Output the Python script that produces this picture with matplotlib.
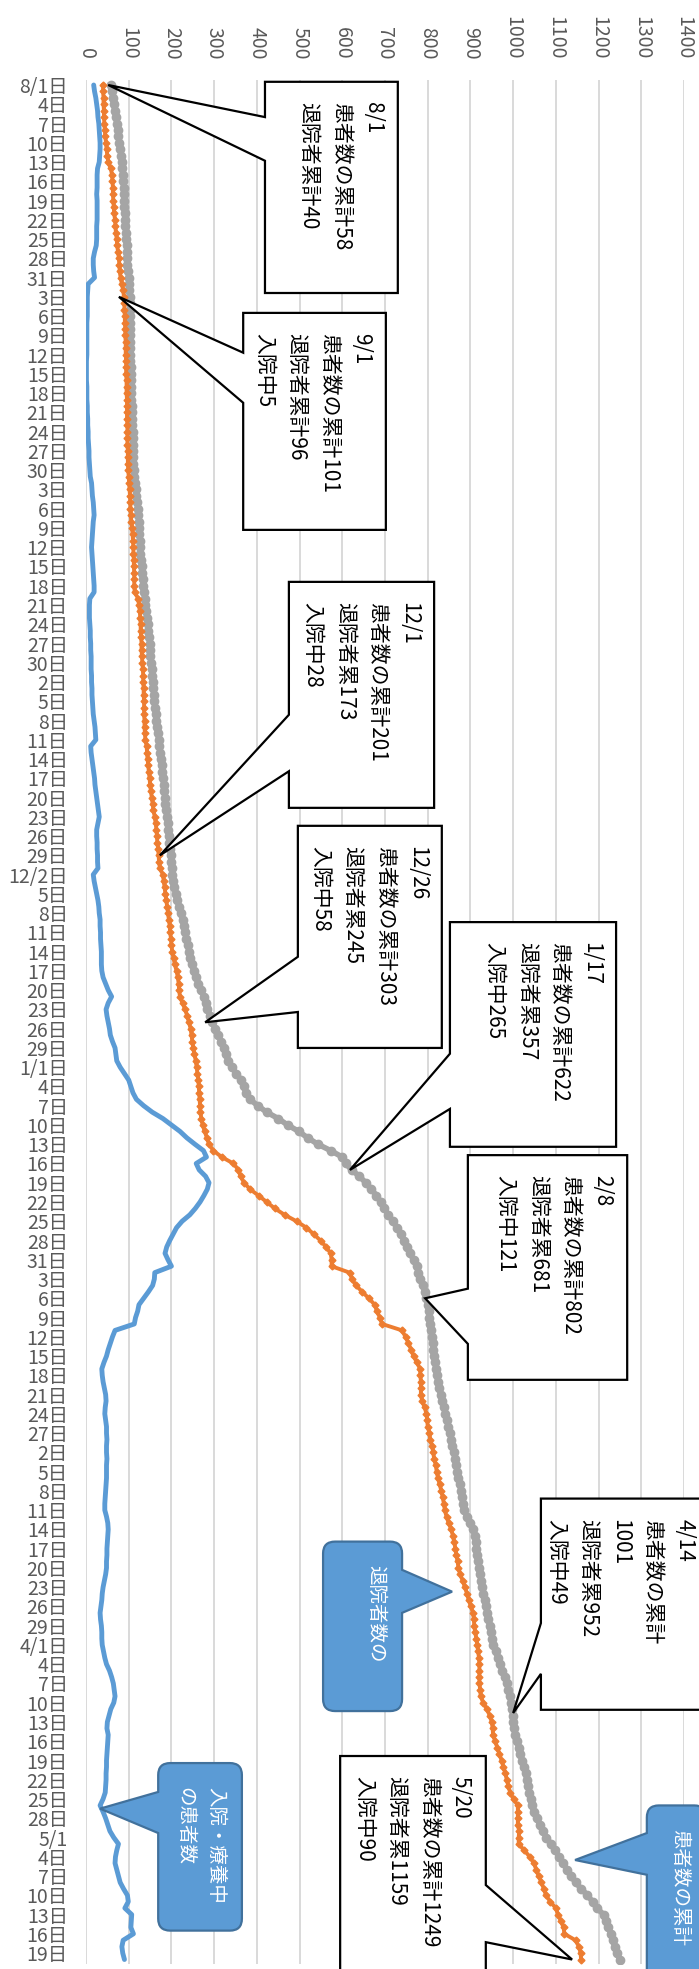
import matplotlib
matplotlib.use('Agg')
import matplotlib.pyplot as plt
from matplotlib.path import Path
from matplotlib.patches import PathPatch
import numpy as np
import pandas as pd

plt.rcParams['font.family'] = ['Noto Sans CJK JP', 'DejaVu Sans']

start_date = '2020-08-01'
end_date = '2021-05-20'

# 患者数の累計 (月ごと, 日別)
cases_aug = [58, 60, 63, 65, 67, 70, 72, 74, 76, 78, 80, 82, 84, 85, 86, 87, 88, 88, 89, 90,
             91, 92, 92, 93, 94, 95, 95, 96, 97, 98, 100]
cases_sep = [101, 101, 102, 102, 103, 103, 103, 103, 104, 104, 104, 104, 104, 105, 105, 105,
             106, 106, 106, 107, 107, 108, 108, 109, 109, 110, 110, 111, 111, 112]
cases_oct = [113, 115, 117, 118, 119, 121, 122, 123, 124, 125, 126, 126, 127, 129, 130, 131,
             133, 134, 136, 137, 139, 141, 142, 144, 146, 147, 149, 150, 151, 153, 154]
cases_nov = [155, 156, 157, 159, 160, 161, 163, 164, 166, 168, 170, 172, 173, 175, 177, 179,
             180, 182, 183, 185, 186, 188, 189, 191, 192, 194, 195, 197, 198, 200]
cases_dec = [201, 202, 204, 207, 210, 214, 218, 222, 226, 229, 232, 235, 238, 241, 244, 248,
             252, 258, 263, 269, 276, 280, 284, 290, 296, 303, 310, 316, 323, 327, 333]
cases_jan = [341, 352, 363, 369, 375, 384, 402, 423, 450, 472, 498, 519, 543, 573, 600, 608,
             622, 640, 655, 668, 680, 690, 698, 708, 718, 728, 737, 745, 751, 758, 767]
cases_feb = [775, 778, 783, 788, 793, 797, 800, 802, 804, 806, 808, 810, 812, 813, 815, 817,
             819, 821, 824, 827, 830, 834, 838, 841, 845, 848, 852, 855]
cases_mar = [858, 861, 864, 867, 869, 872, 875, 878, 880, 882, 884, 892, 900, 907, 910, 912,
             914, 916, 918, 920, 922, 925, 927, 930, 933, 936, 939, 942, 945, 948, 951]
cases_apr = [954, 959, 964, 969, 975, 980, 985, 989, 992, 995, 997, 999, 1000, 1001, 1005, 1009,
             1013, 1017, 1021, 1025, 1029, 1032, 1035, 1038, 1041, 1044, 1048, 1055, 1062, 1070]
cases_may = [1078, 1088, 1098, 1108, 1117, 1126, 1136, 1146, 1160, 1174, 1186, 1196, 1212, 1218,
             1223, 1229, 1233, 1238, 1244, 1249]

# 退院者数の累計
disch_aug = [40, 40, 41, 41, 42, 42, 43, 44, 45, 47, 48, 50, 52, 58, 61, 62, 63, 63, 64, 65,
             66, 68, 69, 70, 72, 73, 75, 77, 78, 79, 81]
disch_sep = [84, 87, 89, 90, 90, 91, 91, 92, 92, 93, 93, 93, 94, 94, 94, 95, 95, 95, 96, 96,
             96, 96, 97, 97, 97, 97, 98, 98, 98, 99]
disch_oct = [100, 101, 102, 103, 104, 104, 105, 106, 108, 109, 110, 111, 111, 112, 112, 113,
             113, 113, 114, 122, 124, 126, 127, 128, 128, 129, 130, 130, 131, 132, 133]
disch_nov = [134, 134, 135, 135, 136, 136, 136, 137, 137, 138, 139, 142, 143, 144, 146, 147,
             149, 150, 152, 154, 156, 158, 161, 163, 165, 166, 167, 169, 170, 171]
disch_dec = [173, 180, 182, 184, 186, 188, 190, 192, 194, 196, 197, 199, 200, 202, 205, 208,
             212, 215, 217, 218, 220, 226, 232, 237, 241, 245, 247, 249, 251, 254, 257]
disch_jan = [259, 261, 263, 264, 265, 266, 267, 268, 270, 273, 278, 283, 288, 298, 318, 345,
             357, 362, 370, 384, 404, 423, 442, 465, 493, 516, 533, 549, 562, 573, 575]
disch_feb = [575, 617, 623, 632, 647, 662, 676, 681, 688, 693, 740, 748, 755, 761, 767, 775,
             782, 783, 784, 784, 784, 787, 793, 797, 799, 800, 804, 806]
disch_mar = [810, 813, 815, 819, 821, 824, 828, 832, 835, 838, 840, 844, 849, 855, 859, 862,
             865, 867, 870, 872, 876, 882, 887, 892, 896, 901, 906, 908, 909, 911, 914]
disch_apr = [916, 918, 920, 921, 921, 921, 921, 923, 924, 930, 939, 945, 950, 952, 953, 958,
             963, 968, 973, 977, 982, 985, 989, 993, 1001, 1011, 1011, 1011, 1011, 1014]
disch_may = [1013, 1013, 1026, 1039, 1049, 1054, 1060, 1066, 1072, 1077, 1087, 1100, 1105, 1112,
             1118, 1120, 1146, 1154, 1158, 1159]

# 入院・療養中の患者数
hosp_aug = [18, 20, 23, 25, 27, 28, 30, 31, 32, 33, 33, 32, 31, 27, 26, 26, 26, 25, 26, 26,
            26, 26, 25, 25, 25, 24, 20, 17, 17, 18, 20]
hosp_sep = [5, 4, 3, 3, 3, 3, 2, 2, 2, 2, 2, 2, 1, 1, 1, 1, 2, 2, 2, 3,
            3, 4, 4, 5, 5, 6, 7, 7, 8, 9]
hosp_oct = [10, 13, 14, 15, 17, 18, 19, 17, 16, 15, 14, 13, 14, 15, 16, 17, 18, 19, 19, 9,
            8, 8, 8, 9, 10, 10, 11, 11, 12, 12, 12]
hosp_nov = [13, 13, 14, 14, 15, 16, 17, 19, 21, 22, 23, 11, 12, 14, 16, 18, 20, 21, 23, 25,
            27, 29, 31, 28, 25, 25, 26, 26, 27, 27]
hosp_dec = [28, 17, 19, 22, 25, 28, 30, 31, 33, 33, 34, 34, 35, 36, 36, 36, 37, 40, 46, 52,
            60, 52, 47, 49, 52, 55, 57, 62, 68, 70, 72]
hosp_jan = [80, 90, 100, 105, 110, 118, 135, 155, 180, 200, 220, 236, 255, 275, 282, 258,
            265, 280, 288, 284, 276, 267, 256, 243, 225, 212, 204, 196, 189, 185, 192]
hosp_feb = [200, 161, 160, 156, 146, 135, 124, 121, 116, 113, 68, 62, 57, 52, 48, 42,
            37, 38, 40, 43, 46, 47, 45, 44, 46, 48, 48, 49]
hosp_mar = [48, 48, 49, 48, 48, 48, 47, 46, 45, 44, 44, 48, 51, 52, 51, 50,
            49, 49, 48, 48, 46, 43, 40, 38, 37, 35, 33, 34, 36, 37, 37]
hosp_apr = [38, 41, 44, 48, 55, 60, 64, 66, 68, 65, 58, 54, 50, 49, 52, 51,
            50, 49, 48, 48, 47, 47, 46, 45, 40, 33, 40, 46, 51, 56]
hosp_may = [65, 76, 72, 69, 68, 72, 76, 80, 88, 97, 99, 91, 107, 106, 105, 111,
            87, 84, 86, 90]

cases = np.array(cases_aug + cases_sep + cases_oct + cases_nov + cases_dec + cases_jan
                 + cases_feb + cases_mar + cases_apr + cases_may)
discharged = np.array(disch_aug + disch_sep + disch_oct + disch_nov + disch_dec + disch_jan
                      + disch_feb + disch_mar + disch_apr + disch_may)
in_hosp = np.array(hosp_aug + hosp_sep + hosp_oct + hosp_nov + hosp_dec + hosp_jan
                   + hosp_feb + hosp_mar + hosp_apr + hosp_may)

dates = pd.date_range(start_date, end_date, freq='D')
days = np.arange(len(dates))

# 月を付けて表示する目盛り
month_labels = {'2020-08-01': '8/1日', '2020-12-02': '12/2日', '2021-01-01': '1/1日',
                '2021-04-01': '4/1日', '2021-05-01': '5/1'}
tick_days = list(range(0, len(dates), 3))
tick_labels = [month_labels.get(dates[i].strftime('%Y-%m-%d'), f'{dates[i].day}日')
               for i in tick_days]

fig = plt.figure(figsize=(6.99, 19.69), dpi=100)
ax = fig.add_axes([86 / 699, 1 - 1964 / 1969, (684 - 86) / 699, (1964 - 80) / 1969])
ax.set_xlim(0, 1400)
ax.set_ylim(292.7, -0.78)

ax.plot(cases, days, color='#A5A5A5', lw=4, marker='o', ms=6, solid_joinstyle='round', zorder=3)
ax.plot(discharged, days, color='#ED7D31', lw=2.8, marker='D', ms=3.5, solid_joinstyle='round', zorder=3)
ax.plot(in_hosp, days, color='#5B9BD5', lw=3.5, solid_joinstyle='round', solid_capstyle='round', zorder=4)

ax.set_xticks(range(0, 1401, 100))
ax.xaxis.tick_top()
ax.tick_params(axis='x', length=0, pad=15, labelsize=14, labelcolor='#595959', labelrotation=-90)
ax.set_yticks(tick_days)
ax.set_yticklabels(tick_labels)
ax.tick_params(axis='y', length=0, pad=13, labelsize=14, labelcolor='#595959')
ax.grid(axis='x', color='#D9D9D9', lw=1.4)
ax.set_axisbelow(True)
for s in ax.spines.values():
    s.set_visible(False)

fig.canvas.draw()
bb = ax.get_window_extent()
px_val = bb.width / 1400
px_day = bb.height / (292.7 + 0.78)


def callout(box, side, base, tip, text, face='white', edge='black', color='black',
            size=15, radius=0, off=(-10, -14.4)):
    x0, x1, y0, y1 = box
    rx, ry = radius / px_val, radius / px_day
    wa, wb = base
    V = [(x0 + rx, y0), (x1 - rx, y0), (x1, y0), (x1, y0 + ry)]
    C = [Path.MOVETO, Path.LINETO, Path.CURVE3, Path.CURVE3]
    if side == 'right':
        V += [(x1, wa), tip, (x1, wb)]
        C += [Path.LINETO] * 3
    V += [(x1, y1 - ry), (x1, y1), (x1 - rx, y1), (x0 + rx, y1), (x0, y1), (x0, y1 - ry)]
    C += [Path.LINETO, Path.CURVE3, Path.CURVE3, Path.LINETO, Path.CURVE3, Path.CURVE3]
    if side == 'left':
        V += [(x0, wb), tip, (x0, wa)]
        C += [Path.LINETO] * 3
    V += [(x0, y0 + ry), (x0, y0), (x0 + rx, y0), (x0 + rx, y0)]
    C += [Path.LINETO, Path.CURVE3, Path.CURVE3, Path.CLOSEPOLY]
    ax.add_patch(PathPatch(Path(V, C), facecolor=face, edgecolor=edge, lw=1.6,
                           clip_on=False, zorder=6, joinstyle='miter'))
    ax.annotate(text, xy=(x1, y0), xytext=off, textcoords='offset points', rotation=-90,
                ha='right', va='top', multialignment='left', fontsize=size, color=color,
                linespacing=1.6, annotation_clip=False, zorder=7)


callout((419, 730, -0.5, 32.4), 'left', (5.0, 11.8), (52, 0),
        '8/1\n患者数の累計58\n退院者累計40')
callout((368, 702, 35.5, 69.3), 'left', (41.7, 49.5), (77, 33),
        '9/1\n患者数の累計101\n退院者累計96\n入院中5')
callout((475, 815, 77.4, 112.6), 'left', (98.1, 106.9), (173, 120),
        '12/1\n患者数の累計201\n退院者累173\n入院中28')
callout((496, 833, 115.4, 150.0), 'left', (135.8, 144.4), (279, 146),
        '12/26\n患者数の累計303\n退院者累245\n入院中58')
callout((852, 1241, 130.4, 165.4), 'left', (150.9, 159.5), (618, 169),
        '1/17\n患者数の累計622\n退院者累357\n入院中265')
callout((894, 1267, 166.7, 201.7), 'left', (187.5, 196.1), (794, 189),
        '2/8\n患者数の累計802\n退院者累681\n入院中121')
callout((1065, 1460, 220.2, 253.1), 'left', (239.6, 247.5), (1000, 253.6),
        '4/14\n患者数の累計\n1001\n退院者累952\n入院中49')
callout((595, 936, 260.3, 300), 'right', (280.4, 289.3), (1138, 292),
        '5/20\n患者数の累計1249\n退院者累1159\n入院中90')

blue = dict(face='#5B9BD5', edge='#41719C', color='white', size=14, radius=12, off=(-11.5, -17))
callout((555, 740, 226.9, 253.3), 'right', (231.3, 238.0), (857, 234.7), '退院者数の', **blue)
callout((169, 365, 261.4, 287.5), 'left', (265.9, 272.3), (33, 268.5), '入院・療養中\nの患者数', **blue)
callout((1313, 1452, 268.0, 300), 'left', (272.3, 278.8), (1145, 276.5), '患者数の累計', **blue)

fig.savefig('out.png', dpi=100, facecolor='white')
